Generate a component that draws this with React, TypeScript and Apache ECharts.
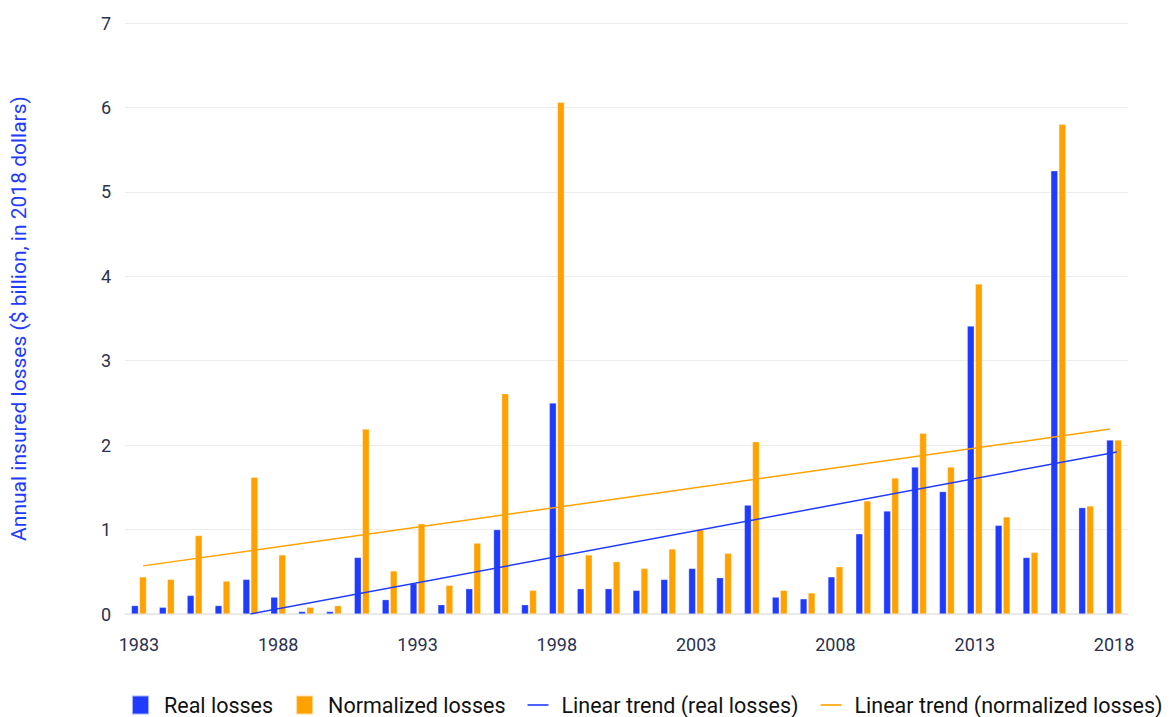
import React, { useEffect, useRef } from "react";
import * as echarts from "echarts";

const years = [
  "1983", "1984", "1985", "1986", "1987", "1988", "1989", "1990", "1991", "1992",
  "1993", "1994", "1995", "1996", "1997", "1998", "1999", "2000", "2001", "2002",
  "2003", "2004", "2005", "2006", "2007", "2008", "2009", "2010", "2011", "2012",
  "2013", "2014", "2015", "2016", "2017", "2018",
];

const realLosses = [
  0.1, 0.08, 0.22, 0.1, 0.41, 0.2, 0.03, 0.03, 0.67, 0.17,
  0.36, 0.11, 0.3, 1.0, 0.11, 2.5, 0.3, 0.3, 0.28, 0.41,
  0.54, 0.43, 1.29, 0.2, 0.18, 0.44, 0.95, 1.22, 1.74, 1.45,
  3.41, 1.05, 0.67, 5.25, 1.26, 2.06,
];

const normalizedLosses = [
  0.44, 0.41, 0.93, 0.39, 1.62, 0.7, 0.08, 0.1, 2.19, 0.51,
  1.07, 0.34, 0.84, 2.61, 0.28, 6.06, 0.7, 0.62, 0.54, 0.77,
  1.0, 0.72, 2.04, 0.28, 0.25, 0.56, 1.34, 1.61, 2.14, 1.74,
  3.91, 1.15, 0.73, 5.8, 1.28, 2.06,
];

const trendReal = [
  [1987.0, 0.0],
  [2018.1, 1.92],
];

const trendNormalized = [
  [1983.15, 0.57],
  [2017.85, 2.19],
];

const yTicks = { min: 0, max: 7, interval: 1 };

const BLUE = "#1f3bff";
const ORANGE = "#ffa200";
const LABEL = "#2b3150";
const BAR_ICON = "path://M0,0h17v19h-17z";
const LINE_ICON = "path://M0,0h21v1.6h-21z";

export default function App() {
  const ref = useRef<HTMLDivElement>(null);

  useEffect(() => {
    if (!ref.current) return;
    const chart = echarts.init(ref.current, null, { renderer: "svg" });
    chart.setOption({
      animation: false,
      backgroundColor: "#ffffff",
      textStyle: { fontFamily: "Roboto" },
      grid: { left: 125, right: 45, top: 23, bottom: 103 },
      legend: {
        bottom: -4,
        left: 126,
        itemWidth: 21,
        itemHeight: 19,
        itemGap: 22,
        textStyle: { fontFamily: "Roboto", fontSize: 21.5, color: "#111111", padding: [0, 0, 0, 8] },
        data: [
          { name: "Real losses", icon: BAR_ICON },
          { name: "Normalized losses", icon: BAR_ICON },
          { name: "Linear trend (real losses)", icon: LINE_ICON },
          { name: "Linear trend (normalized losses)", icon: LINE_ICON },
        ],
      },
      xAxis: [
        {
          type: "category",
          data: years,
          axisLine: { lineStyle: { color: "#e6e6e6", width: 1.5 } },
          axisTick: {
            alignWithLabel: true,
            interval: 0,
            length: 11,
            lineStyle: { color: "#e3e3e3", width: 1.5 },
          },
          axisLabel: { show: false },
        },
        {
          type: "category",
          data: years,
          position: "bottom",
          axisLine: { show: false },
          axisTick: {
            alignWithLabel: true,
            interval: 4,
            length: 18,
            lineStyle: { color: "#dcdcdc", width: 1.5 },
          },
          axisLabel: {
            interval: 4,
            color: LABEL,
            fontSize: 18,
            fontFamily: "Roboto",
            margin: 21,
          },
        },
        {
          type: "value",
          min: 1982.5,
          max: 2018.5,
          show: false,
        },
      ],
      yAxis: {
        type: "value",
        min: yTicks.min,
        max: yTicks.max,
        interval: yTicks.interval,
        name: "Annual insured losses ($ billion, in 2018 dollars)",
        nameLocation: "middle",
        nameGap: 96,
        nameTextStyle: { color: BLUE, fontSize: 21, fontFamily: "Roboto" },
        axisLine: { show: false },
        axisTick: { show: false },
        axisLabel: { color: LABEL, fontSize: 18, fontFamily: "Roboto", margin: 14 },
        splitLine: { lineStyle: { color: "#ececec", width: 1 } },
      },
      series: [
        {
          name: "Real losses",
          type: "bar",
          data: realLosses,
          barWidth: 7,
          barGap: "15%",
          itemStyle: { color: BLUE, borderColor: "rgba(255,255,255,0.6)", borderWidth: 0.5 },
        },
        {
          name: "Normalized losses",
          type: "bar",
          data: normalizedLosses,
          barWidth: 7,
          barGap: "15%",
          itemStyle: { color: ORANGE, borderColor: "rgba(255,255,255,0.6)", borderWidth: 0.5 },
        },
        {
          name: "Linear trend (real losses)",
          type: "line",
          xAxisIndex: 2,
          data: trendReal,
          symbol: "none",
          lineStyle: { color: BLUE, width: 1.5 },
          itemStyle: { color: BLUE },
          z: 5,
        },
        {
          name: "Linear trend (normalized losses)",
          type: "line",
          xAxisIndex: 2,
          data: trendNormalized,
          symbol: "none",
          lineStyle: { color: ORANGE, width: 1.5 },
          itemStyle: { color: ORANGE },
          z: 5,
        },
      ],
    });
    return () => chart.dispose();
  }, []);

  return (
    <div
      ref={ref}
      style={{ position: "absolute", left: 0, top: 0, width: 1173, height: 717 }}
    />
  );
}
